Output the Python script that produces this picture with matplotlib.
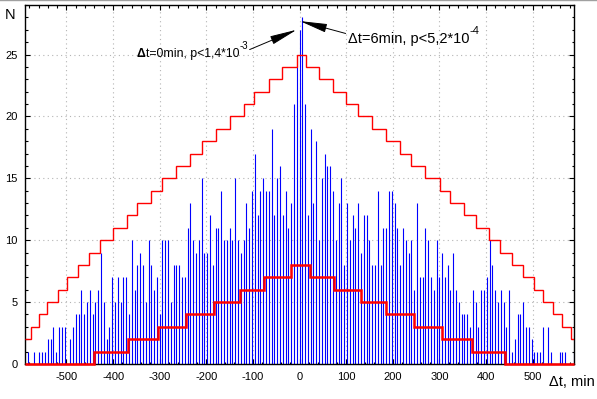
import numpy as np
import matplotlib
matplotlib.use("Agg")
import matplotlib.pyplot as plt
from matplotlib.lines import Line2D
from matplotlib.ticker import MultipleLocator

plt.rcParams['font.family'] = ['Liberation Sans', 'DejaVu Sans']
plt.rcParams['axes.unicode_minus'] = False

# bin centres, min (6 min bins)
lag = np.arange(-582, 589, 6)

# counts per bin, read left to right
counts = [
    1, 0, 1, 0, 1, 1, 1, 2, 2, 3, 1, 3, 3, 3, 0, 2, 3, 4, 4, 6, 4, 5, 6, 4, 5, 6, 9, 5, 2, 3, 7, 5, 7,
    5, 7, 7, 4, 10, 6, 8, 9, 8, 5, 10, 8, 6, 7, 4, 10, 10, 10, 5, 8, 8, 8, 7, 7, 11, 13, 10, 9, 10, 15, 9, 9,
    12, 8, 11, 11, 14, 10, 10, 11, 10, 15, 10, 9, 10, 13, 11, 14, 17, 12, 14, 15, 14, 14, 19, 12, 15, 16, 12, 14, 11, 13, 21, 24, 27,
    28, 21, 12, 19, 13, 18, 10, 15, 17, 16, 16, 14, 10, 13, 15, 8, 13, 10, 12, 11, 13, 9, 12, 12, 10, 8, 8, 14, 8, 11, 11, 14,
    14, 13, 11, 8, 11, 10, 9, 10, 6, 13, 7, 7, 11, 10, 7, 6, 10, 7, 9, 7, 8, 6, 9, 6, 5, 4, 4, 4, 3, 6, 5, 3, 6,
    6, 7, 10, 8, 6, 5, 6, 5, 3, 6, 1, 2, 4, 4, 5, 3, 3, 2, 1, 1, 1, 3, 0, 3, 1, 0, 0, 1, 1, 1, 0, 0, 1,
]

# upper confidence step
upper_edges = [-589, -577, -559, -541, -518, -499, -475, -452, -428, -400, -371, -348,
               -318, -295, -264, -234, -210, -180, -150, -120, -98, -66, -37, -6,
               14, 42, 72, 99, 125, 156, 185, 215, 240, 270, 301, 324,
               353, 378, 407, 431, 456, 480, 503, 522, 545, 564, 582, 589]
upper_levels = [2, 3, 4, 5, 6, 7, 8, 9, 10, 11, 12, 13, 14, 15, 16, 17, 18, 19, 20, 21, 22, 23, 24, 25,
                24, 23, 22, 21, 20, 19, 18, 17, 16, 15, 14, 13, 12, 11, 10, 9, 8, 7, 6, 5, 4, 3, 2]

# lower step
lower_edges = [-589, -440, -369, -303, -243, -183, -128, -76, -19,
               22, 75, 131, 185, 245, 305, 370, 442, 589]
lower_levels = [0, 1, 2, 3, 4, 5, 6, 7, 8, 7, 6, 5, 4, 3, 2, 1, 0]

xticks = [-500, -400, -300, -200, -100, 0, 100, 200, 300, 400, 500]
yticks = [0, 5, 10, 15, 20, 25]

fig = plt.figure(figsize=(5.97, 3.99), dpi=100)
ax = fig.add_axes([25/597, 1-364/399, 549/597, 359/399])

bars = ax.vlines(lag, 0, counts, colors='#0000ff', lw=0.8, zorder=2)
bars.set_snap(True)
ax.stairs(upper_levels, upper_edges, baseline=None, color='#ff0000', lw=1.0, zorder=3)
ax.stairs(lower_levels, lower_edges, baseline=None, color='#ff0000', lw=1.8, zorder=4, clip_on=False)

ax.set_xlim(-589, 589)
ax.set_ylim(0, 29)
ax.set_xticks(xticks)
ax.set_yticks(yticks)
ax.xaxis.set_minor_locator(MultipleLocator(20))
ax.yaxis.set_minor_locator(MultipleLocator(1))
ax.tick_params(which='both', direction='in', top=True, right=True, colors='k')
ax.tick_params(which='major', length=3.5, width=0.8, pad=5.5, labelsize=8)
ax.tick_params(which='minor', length=1.8, width=0.8)
for s in ax.spines.values():
    s.set_linewidth(1.0)
ax.grid(True, which='major', color='#b4b4b4', ls=(0, (1, 3)), lw=0.8, zorder=0)
ax.set_axisbelow(True)

fig.text(10.5/597, 1-15/399, "N", ha='center', va='center', fontsize=10.5)
fig.text(572/597, 1-382/399, "\u0394t, min", ha='center', va='center', fontsize=10.5)

arrow = dict(arrowstyle='-|>,head_length=1.4,head_width=0.22', color='k',
             lw=0.7, mutation_scale=12, shrinkA=0, shrinkB=0)

# left annotation
d0 = ax.text(-349, 24.8, "\u0394", fontsize=8.8, fontweight='bold', ha='left', va='baseline')
t0 = ax.annotate("t=0min, p<1,4*10", xy=(1, 0), xycoords=d0, ha='left', va='bottom', fontsize=8.8)
ax.annotate("-3", xy=(1, 0.75), xycoords=t0, ha='left', va='bottom', fontsize=7)
ax.annotate("", xy=(-6, 27.0), xytext=(-107, 25.4), arrowprops=arrow)

# right annotation
t6 = ax.text(104, 25.9, "\u0394t=6min, p<5,2*10", fontsize=10.5, ha='left', va='baseline')
ax.annotate("-4", xy=(1, 0.75), xycoords=t6, ha='left', va='bottom', fontsize=8)
ax.annotate("", xy=(1, 27.7), xytext=(99, 26.7), arrowprops=arrow)

fig.add_artist(Line2D([0, 1], [0.999, 0.999], color='#a0a0a0', lw=1.0))

fig.savefig("out.png", dpi=100)
